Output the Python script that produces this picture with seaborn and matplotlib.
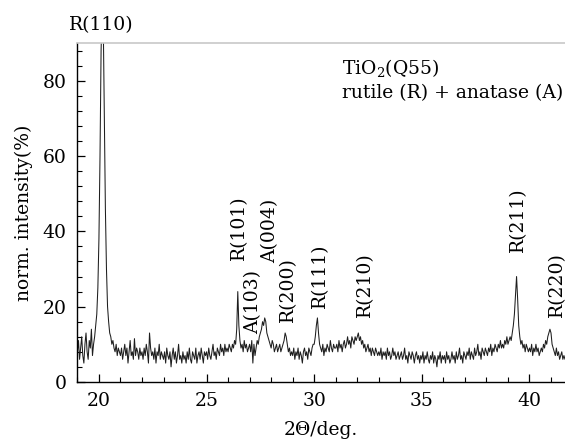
import matplotlib
matplotlib.use("Agg")
import matplotlib.pyplot as plt
import numpy as np
import pandas as pd
import seaborn as sns
from matplotlib.ticker import MultipleLocator

# XRD scan, 0.05 deg steps starting at 19.00 deg
two_theta_start = 19.0
two_theta_step = 0.05
seg_19 = [8, 11, 6, 9, 12, 7, 5, 10, 13, 8, 6, 11, 9, 14, 7, 10, 12, 15, 18, 25]
seg_20 = [38, 60, 88, 100, 96, 72, 46, 30, 20, 16, 13, 12, 10, 11, 9, 8, 10, 7, 9, 8]
seg_21 = [7, 9, 6, 8, 10, 7, 9, 5, 8, 11, 7, 8, 6, 11.5, 7, 9, 8, 6, 9, 7]
seg_22 = [8, 6, 9, 7, 10, 8, 5, 13, 9, 7, 8, 6, 9, 5, 8, 7, 10, 6, 8, 7]
seg_23 = [6, 8, 5, 9, 7, 6, 8, 4, 7, 9, 6, 8, 5, 7, 10, 6, 7, 5, 8, 6]
seg_24 = [7, 5, 8, 6, 9, 6, 5, 8, 7, 6, 9, 5, 7, 8, 6, 9, 7, 5, 8, 7]
seg_25 = [8, 6, 9, 7, 6, 8, 10, 7, 8, 6, 9, 8, 7, 10, 8, 9, 7, 10, 8, 9]
seg_26 = [8, 10, 9, 8, 10, 9, 11, 10, 14, 24, 15, 11, 9, 10, 8, 11, 9, 10, 8, 9]
seg_27 = [10, 8, 11, 5, 10, 7, 9, 11, 10, 12, 13, 14, 16, 15, 17, 16, 13, 12, 11, 10]
seg_28 = [9, 11, 10, 8, 9, 10, 8, 9, 10, 8, 9, 10, 11, 13, 12, 10, 8, 9, 7, 8]
seg_29 = [7, 9, 6, 8, 7, 9, 6, 8, 7, 5, 8, 9, 7, 8, 6, 9, 8, 7, 9, 10]
seg_30 = [10, 12, 15, 17, 13, 10, 9, 8, 10, 7, 9, 8, 10, 9, 8, 11, 9, 8, 10, 9]
seg_31 = [9, 10, 8, 11, 9, 10, 8, 10, 11, 9, 10, 12, 10, 11, 9, 12, 11, 10, 12, 11]
seg_32 = [12, 13, 11, 12, 10, 11, 9, 10, 8, 9, 10, 8, 9, 7, 9, 8, 7, 9, 8, 7]
seg_33 = [8, 7, 9, 6, 8, 7, 8, 6, 9, 7, 8, 6, 7, 9, 7, 8, 6, 7, 8, 6]
seg_34 = [7, 8, 6, 7, 9, 6, 7, 5, 8, 7, 6, 8, 7, 5, 7, 8, 6, 7, 5, 7]
seg_35 = [6, 8, 5, 7, 6, 8, 6, 5, 7, 6, 8, 5, 7, 6, 4, 7, 6, 8, 5, 7]
seg_36 = [6, 7, 5, 8, 6, 7, 5, 6, 8, 6, 7, 5, 8, 6, 7, 9, 6, 7, 5, 8]
seg_37 = [7, 6, 8, 7, 9, 6, 8, 7, 6, 9, 7, 8, 10, 7, 8, 6, 9, 8, 7, 9]
seg_38 = [8, 7, 9, 8, 10, 7, 9, 8, 10, 9, 8, 10, 9, 11, 9, 10, 9, 11, 10, 12]
seg_39 = [10, 11, 12, 11, 13, 15, 18, 23, 28, 22, 15, 12, 10, 11, 9, 10, 8, 10, 9, 8]
seg_40 = [9, 8, 10, 7, 9, 8, 10, 8, 9, 7, 8, 9, 8, 10, 9, 11, 10, 12, 13, 14]
seg_41 = [13, 10, 9, 8, 7, 9, 7, 8, 6, 7, 8, 6, 7, 6]

# reflex labels: text, 2theta (centre of label), intensity (bottom of label)
peak_labels = ["R(101)", "A(103)", "A(004)", "R(200)", "R(111)", "R(210)", "R(211)", "R(220)"]
peak_label_x = [26.51, 27.16, 27.95, 28.8, 30.28, 32.37, 39.49, 41.26]
peak_label_y = [32.4, 12.8, 31.5, 16.0, 19.7, 17.3, 34.6, 17.3]

intensity = (seg_19 + seg_20 + seg_21 + seg_22 + seg_23 + seg_24 + seg_25 + seg_26
             + seg_27 + seg_28 + seg_29 + seg_30 + seg_31 + seg_32 + seg_33 + seg_34
             + seg_35 + seg_36 + seg_37 + seg_38 + seg_39 + seg_40 + seg_41)
two_theta = two_theta_start + two_theta_step * np.arange(len(intensity))
df = pd.DataFrame({"two_theta": two_theta, "intensity": intensity})

sns.set_style("ticks")
plt.rcParams["font.family"] = ["DejaVu Serif"]
plt.rcParams["mathtext.fontset"] = "dejavuserif"
plt.rcParams["text.color"] = "black"
plt.rcParams["axes.labelcolor"] = "black"
plt.rcParams["xtick.color"] = "black"
plt.rcParams["ytick.color"] = "black"

fs = 13.5
fig = plt.figure(figsize=(5.65, 4.41), dpi=100)
ax = fig.add_axes([0.137, 0.134, 0.863, 0.768])

sns.lineplot(data=df, x="two_theta", y="intensity", ax=ax,
             color="#1e1e1e", lw=0.75)

ax.set_xlim(19.0, 41.65)
ax.set_ylim(0, 90)
ax.xaxis.set_major_locator(MultipleLocator(5))
ax.xaxis.set_minor_locator(MultipleLocator(1))
ax.yaxis.set_major_locator(MultipleLocator(20))
ax.yaxis.set_minor_locator(MultipleLocator(4))
ax.tick_params(which="both", direction="in", labelsize=fs)
ax.tick_params(which="major", length=6, width=0.9)
ax.tick_params(axis="x", which="major", pad=7)
ax.tick_params(axis="y", which="major", pad=8)
ax.tick_params(which="minor", length=3.5, width=0.8)
ax.tick_params(axis="y", which="both", right=False)
ax.tick_params(axis="x", which="both", top=False)

for side in ["left", "bottom"]:
    ax.spines[side].set_color("black")
    ax.spines[side].set_linewidth(1.0)
ax.spines["top"].set_color("#c8c8c8")
ax.spines["top"].set_linewidth(1.2)
ax.spines["right"].set_visible(False)

ax.set_xlabel("2Θ/deg.", fontsize=fs, labelpad=8)
ax.set_ylabel("norm. intensity(%)", fontsize=fs, labelpad=7)

ax.text(20.12, 94.8, "R(110)", fontsize=fs, ha="center", va="center", clip_on=False)
for lab, lx, ly in zip(peak_labels, peak_label_x, peak_label_y):
    ax.text(lx, ly, lab, fontsize=fs, rotation=90, ha="center", va="bottom", clip_on=False)

ax.text(31.3, 83.5, "TiO$_2$(Q55)", fontsize=fs, ha="left", va="center")
ax.text(31.3, 76.8, "rutile (R) + anatase (A)", fontsize=fs, ha="left", va="center",
        clip_on=False)

fig.savefig("out.png", dpi=100)
